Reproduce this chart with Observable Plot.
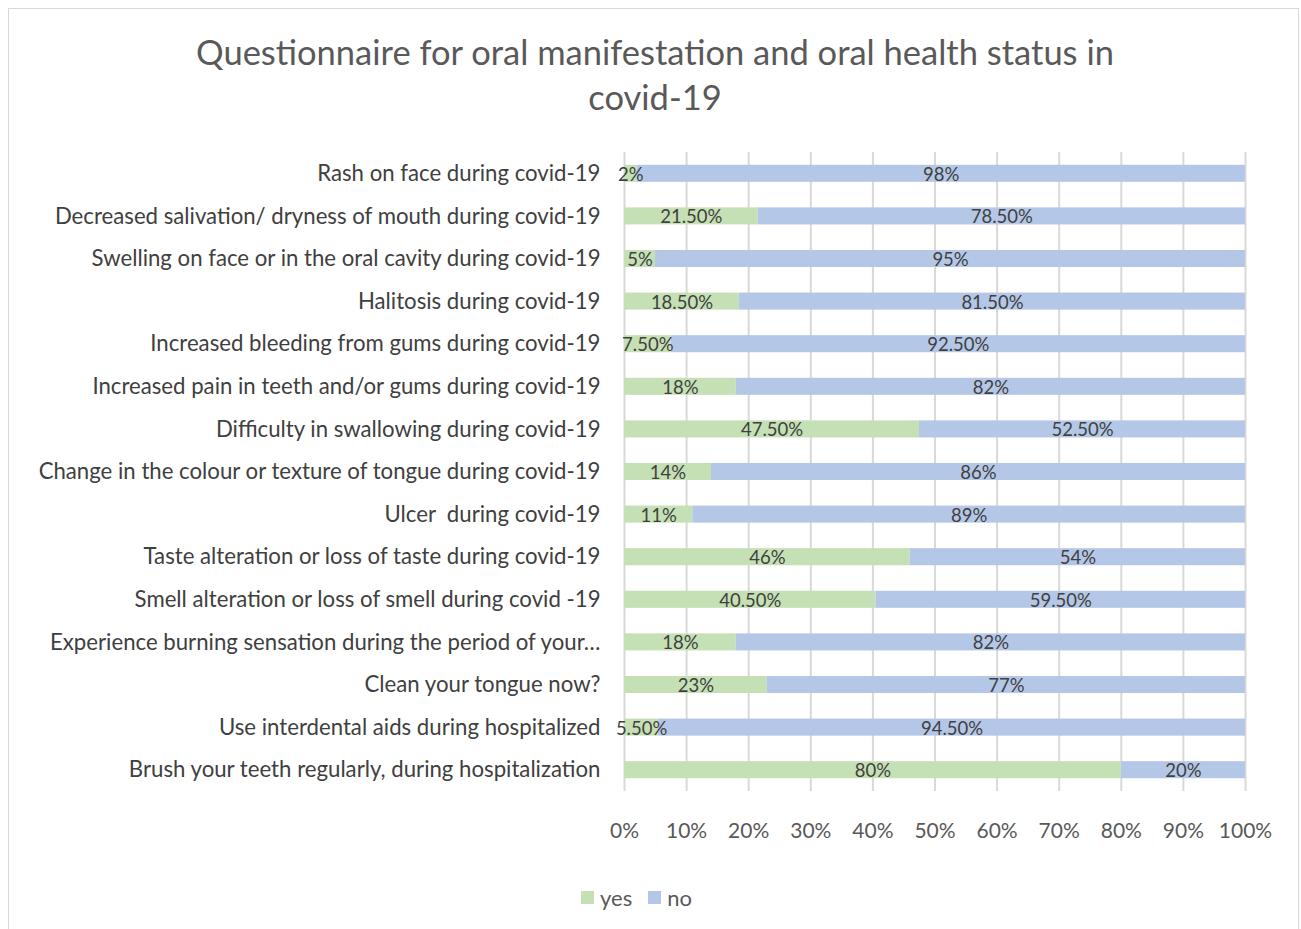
<!DOCTYPE html>
<html>
<head>
<meta charset="utf-8">
<script src="https://cdn.jsdelivr.net/npm/d3@7"></script>
<script src="https://cdn.jsdelivr.net/npm/@observablehq/plot@0.6"></script>
<style>
  html, body { margin: 0; padding: 0; background: #fff; }
  body { width: 1301px; height: 929px; position: relative; overflow: hidden; font-family: Lato, "Open Sans", sans-serif; }
  #frame { position: absolute; left: 8px; top: 8px; width: 1291px; height: 940px; border: 1.5px solid #d9d9d9; box-sizing: border-box; }
  #title { position: absolute; left: 0; top: 29px; width: 1310px; text-align: center; font-size: 34.5px; line-height: 45px; color: #595959; }
  #chart { position: absolute; left: 0; top: 130px; }
  #legend { position: absolute; left: 581px; top: 884px; display: flex; align-items: center; font-size: 22px; color: #595959; }
  .sw { display: inline-block; width: 13px; height: 13px; margin-right: 6px; }
  .item { display: inline-flex; align-items: center; }
</style>
</head>
<body>
<div id="frame"></div>
<div id="title">Questionnaire for oral manifestation and oral health status in<br>covid-19</div>
<div id="chart"></div>
<div id="legend"></div>
<script>
const categories = [
  "Rash on face during covid-19",
  "Decreased salivation/ dryness of mouth during covid-19",
  "Swelling on face or in the oral cavity during covid-19",
  "Halitosis during covid-19",
  "Increased bleeding from gums during covid-19",
  "Increased pain in teeth and/or gums during covid-19",
  "Difficulty in swallowing during covid-19",
  "Change in the colour or texture of tongue during covid-19",
  "Ulcer  during covid-19",
  "Taste alteration or loss of taste during covid-19",
  "Smell alteration or loss of smell during covid -19",
  "Experience burning sensation during the period of your…",
  "Clean your tongue now?",
  "Use interdental aids during hospitalized",
  "Brush your teeth regularly, during hospitalization"
];
const yesValues = [2, 21.5, 5, 18.5, 7.5, 18, 47.5, 14, 11, 46, 40.5, 18, 23, 5.5, 80];
const noValues  = [98, 78.5, 95, 81.5, 92.5, 82, 52.5, 86, 89, 54, 59.5, 82, 77, 94.5, 20];
const seriesNames = ["yes", "no"];
const seriesColors = ["#c5e0b4", "#b4c7e7"];
const xTicks = [0, 10, 20, 30, 40, 50, 60, 70, 80, 90, 100];

const fmt = v => Number.isInteger(v) ? v + "%" : v.toFixed(2) + "%";

const rows = [];
categories.forEach((c, i) => {
  rows.push({cat: c, series: "yes", value: yesValues[i]});
});
categories.forEach((c, i) => {
  rows.push({cat: c, series: "no", value: noValues[i]});
});

const chart = Plot.plot({
  width: 1301,
  height: 730,
  marginLeft: 624,
  marginRight: 56,
  marginTop: 22,
  marginBottom: 69,
  style: {fontFamily: "Lato, 'Open Sans', sans-serif", background: "transparent"},
  x: {domain: [0, 100], ticks: xTicks, tickFormat: d => d + "%"},
  y: {domain: categories, paddingInner: 0.6, paddingOuter: 0.3, round: false},
  color: {domain: seriesNames, range: seriesColors},
  marks: [
    Plot.ruleX(xTicks, {stroke: "#d9d9d9", strokeWidth: 2}),
    Plot.barX(rows, Plot.stackX({x: "value", y: "cat", fill: "series", order: null})),
    Plot.text(rows, Plot.stackX({x: "value", y: "cat", order: null, text: d => fmt(d.value), fill: "#404040", fontSize: 18.5, dy: 1})),
    Plot.axisX({ticks: xTicks, tickFormat: d => d + "%", tickSize: 0, tickPadding: 32, fontSize: 21, color: "#595959", label: null}),
    Plot.axisY({tickSize: 0, tickPadding: 24, fontSize: 22.2, color: "#404040", label: null, textAnchor: "end"})
  ]
});
document.getElementById("chart").appendChild(chart);

const legend = document.getElementById("legend");
seriesNames.forEach((s, i) => {
  const item = document.createElement("span");
  item.className = "item";
  item.style.marginRight = i === 0 ? "16px" : "0";
  const sw = document.createElement("span");
  sw.className = "sw";
  sw.style.background = seriesColors[i];
  item.appendChild(sw);
  item.appendChild(document.createTextNode(s));
  legend.appendChild(item);
});
</script>
</body>
</html>
